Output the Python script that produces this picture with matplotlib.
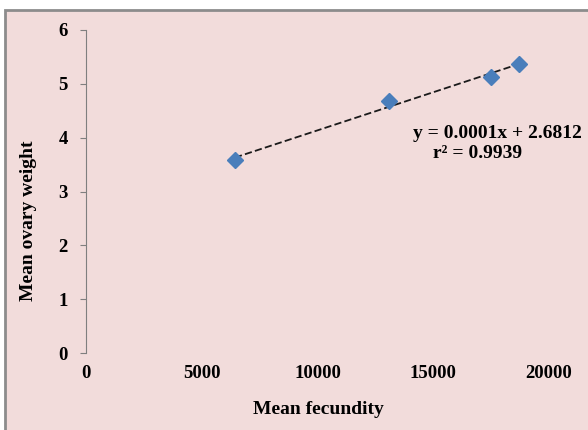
import numpy as np
import matplotlib
matplotlib.use("Agg")
import matplotlib.pyplot as plt
from matplotlib.patches import Rectangle

# values
fecundity = [6436, 13089, 17482, 18704]
ovary_weight = [3.585, 4.687, 5.133, 5.363]
x_ticks = [0, 5000, 10000, 15000, 20000]
y_ticks = [0, 1, 2, 3, 4, 5, 6]
eq_text = "y = 0.0001x + 2.6812"
r2_text = "r\u00b2 = 0.9939"

BG = "#F2DCDB"
BLUE = "#4A7EBB"
SERIF = ["Liberation Serif", "DejaVu Serif"]

fig = plt.figure(figsize=(5.88, 4.30), dpi=100)
fig.patch.set_facecolor("white")

# pink chart area with grey frame (left and top edges visible)
frame = Rectangle((5 / 588, -0.05), 1.2, 1 - 10 / 430 + 0.05,
                  transform=fig.transFigure, facecolor=BG,
                  edgecolor="#8c8c8c", lw=2, zorder=-5)
fig.patches.append(frame)

ax = fig.add_axes([86 / 588, 1 - 353 / 430, 463 / 588, 323 / 430])
ax.set_facecolor("none")
ax.set_zorder(2)

ax.plot(fecundity, ovary_weight, "D", color=BLUE, ms=8, mec=BLUE, zorder=3,
        clip_on=False)

# linear trend over the data range
m, b = np.polyfit(fecundity, ovary_weight, 1)
xs = np.array([min(fecundity), max(fecundity)])
ax.plot(xs, m * xs + b, ls=(0, (4, 1.8)), color="#1a1a1a", lw=1.3, zorder=2)

ax.set_xlim(0, 20000)
ax.set_ylim(0, 6)
ax.set_xticks(x_ticks)
ax.set_yticks(y_ticks)
for s in ("top", "right", "bottom"):
    ax.spines[s].set_visible(False)
ax.spines["left"].set_color("#7f7f7f")
ax.tick_params(axis="y", length=4, color="#7f7f7f", pad=9)
ax.tick_params(axis="x", length=0, pad=9)
for lab in ax.get_xticklabels() + ax.get_yticklabels():
    lab.set_family(SERIF)
    lab.set_fontweight("bold")
    lab.set_fontsize(13.5)

fig.text(318 / 588, 1 - 410 / 430, "Mean fecundity", ha="center", va="center",
         family=SERIF, fontweight="bold", fontsize=14)
fig.text(29 / 588, 1 - 221 / 430, "Mean ovary weight", ha="center", va="center",
         rotation=90, family=SERIF, fontweight="bold", fontsize=14)

fig.text(413 / 588, 1 - 133 / 430, eq_text, ha="left", va="center",
         family=SERIF, fontweight="bold", fontsize=14)
fig.text(478 / 588, 1 - 153 / 430, r2_text, ha="center", va="center",
         family=SERIF, fontweight="bold", fontsize=14)

fig.savefig("out.png", dpi=100, facecolor=fig.get_facecolor())
